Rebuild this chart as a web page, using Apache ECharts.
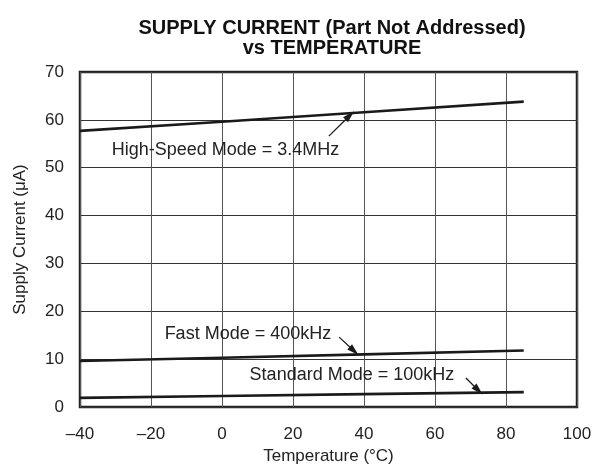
<!DOCTYPE html>
<html>
<head>
<meta charset="utf-8">
<script src="https://cdn.jsdelivr.net/npm/echarts@6/dist/echarts.min.js"></script>
<style>
  html, body { margin: 0; padding: 0; background: #fff; }
  #main { width: 593px; height: 468px; }
</style>
</head>
<body>
<div id="main"></div>
<script>
// temperature points (deg C)
var temps = [-40, 0, 40, 85];
// supply current, uA
var highSpeed = [57.7, 59.6, 61.6, 63.8];
var fastMode = [9.6, 10.3, 11.0, 11.8];
var standardMode = [1.9, 2.3, 2.7, 3.1];

var xTicks = [-40, -20, 0, 20, 40, 60, 80, 100];
var yTicks = [0, 10, 20, 30, 40, 50, 60, 70];

// annotation: [label text, label pos, arrow start, arrow tip]
var hsNote = ['High-Speed Mode = 3.4MHz', [1.0, 53.7], [30.1, 56.6], [36.0, 60.9]];
var fastNote = ['Fast Mode = 400kHz', [7.3, 15.2], [33.0, 14.6], [37.2, 11.7]];
var stdNote = ['Standard Mode = 100kHz', [36.6, 6.7], [68.7, 6.05], [72.2, 3.5]];

var ink = '#1a1a1a';
var font = 'Liberation Sans, Arial, sans-serif';

function pairs(xs, ys){
	var out = [];
	for(var i=0;i<xs.length;i++) out.push([xs[i], ys[i]]);
	return out;
}

function makeSeries(name, values, note){
	return {
		name: name,
		type: 'line',
		data: pairs(temps, values),
		symbol: 'none',
		lineStyle: { color: ink, width: 2.6 },
		silent: true,
		markLine: {
			silent: true,
			lineStyle: { color: ink, width: 1.3, type: 'solid' },
			label: { show: false },
			data: [[
				{ coord: note[2], symbol: 'none' },
				{ coord: note[3], symbol: 'triangle', symbolSize: [7, 12] }
			]]
		},
		markPoint: {
			silent: true,
			symbol: 'rect',
			symbolSize: 1,
			itemStyle: { color: 'rgba(0,0,0,0)' },
			label: {
				show: true,
				position: 'inside',
				formatter: note[0],
				color: '#222',
				fontFamily: font,
				fontSize: 18
			},
			data: [{ coord: note[1] }]
		}
	};
}

var myChart = echarts.init(document.getElementById('main'), null, { renderer: 'canvas' });

var option = {
	backgroundColor: '#fff',
	animation: false,
	title: {
		text: 'SUPPLY CURRENT (Part Not Addressed)\nvs TEMPERATURE',
		left: 327,
		textAlign: 'center',
		top: 13,
		textStyle: {
			fontFamily: font,
			fontSize: 20,
			fontWeight: 'bold',
			color: '#111',
			lineHeight: 20
		}
	},
	grid: {
		left: 80, right: 16, top: 72, bottom: 61,
		outerBoundsMode: 'none',
		show: true,
		borderColor: '#222',
		borderWidth: 2.5
	},
	xAxis: {
		type: 'value',
		min: xTicks[0],
		max: xTicks[xTicks.length - 1],
		interval: 20,
		name: 'Temperature (°C)',
		nameLocation: 'middle',
		nameGap: 41,
		nameTextStyle: { fontFamily: font, fontSize: 17, color: '#222' },
		axisLine: { show: false },
		axisTick: { show: false },
		axisLabel: {
			margin: 19,
			fontFamily: font,
			fontSize: 17,
			color: '#222',
			formatter: function(v){ return String(v).replace('-', '\u2013'); }
		},
		splitLine: { show: true, lineStyle: { color: '#555', width: 1 } }
	},
	yAxis: {
		type: 'value',
		min: yTicks[0],
		max: yTicks[yTicks.length - 1],
		interval: 10,
		name: 'Supply Current (\u03bcA)',
		nameLocation: 'middle',
		nameGap: 51,
		nameTextStyle: { fontFamily: font, fontSize: 17, color: '#222' },
		axisLine: { show: false },
		axisTick: { show: false },
		axisLabel: {
			margin: 16,
			fontFamily: font,
			fontSize: 17,
			color: '#222'
		},
		splitLine: { show: true, lineStyle: { color: '#333', width: 1 } }
	},
	series: [
		makeSeries('High-Speed', highSpeed, hsNote),
		makeSeries('Fast', fastMode, fastNote),
		makeSeries('Standard', standardMode, stdNote)
	]
};

myChart.setOption(option);
</script>
</body>
</html>
